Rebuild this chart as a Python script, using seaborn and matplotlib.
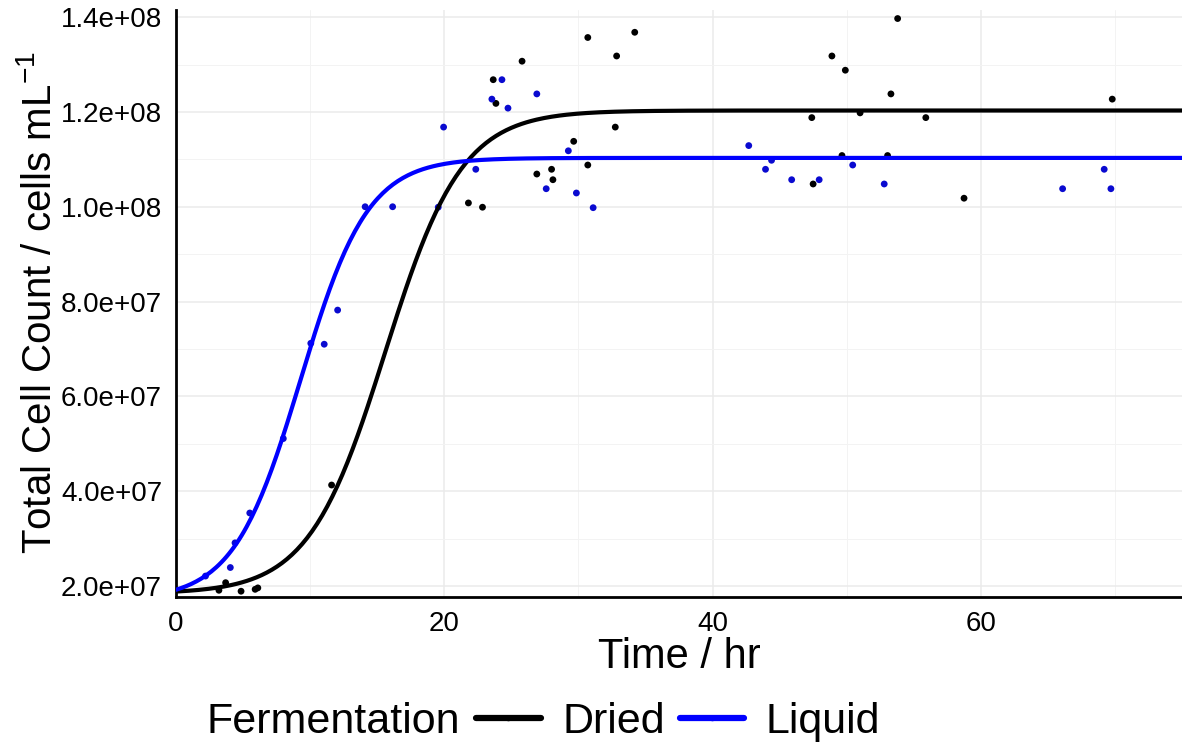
import numpy as np
import pandas as pd
import matplotlib
matplotlib.use("Agg")
import matplotlib.pyplot as plt
import seaborn as sns
from matplotlib.lines import Line2D

dried_time = [3.2, 3.7, 4.85, 5.9, 6.1, 11.6, 21.8, 22.85, 23.65, 23.85, 25.8, 26.9,
              28.0, 28.1, 29.65, 30.7, 30.7, 32.75, 32.85, 34.2, 47.4, 47.5, 48.9,
              49.65, 49.9, 51.0, 53.05, 53.3, 53.8, 55.9, 58.75, 69.8]
dried_count = [1.91e7, 2.07e7, 1.89e7, 1.93e7, 1.96e7, 4.13e7, 1.008e8, 0.999e8, 1.268e8,
               1.218e8, 1.307e8, 1.069e8, 1.079e8, 1.057e8, 1.138e8, 1.088e8, 1.357e8,
               1.168e8, 1.318e8, 1.368e8, 1.188e8, 1.048e8, 1.318e8, 1.108e8, 1.288e8,
               1.198e8, 1.108e8, 1.238e8, 1.397e8, 1.188e8, 1.018e8, 1.227e8]
liquid_time = [2.2, 4.05, 4.4, 5.5, 8.0, 10.05, 11.05, 12.05, 14.1, 16.15, 19.55, 19.95,
               22.35, 23.55, 24.3, 24.75, 26.9, 27.6, 29.25, 29.85, 31.1, 42.7, 43.95,
               44.4, 45.9, 47.95, 50.45, 52.8, 66.1, 69.2, 69.7]
liquid_count = [2.21e7, 2.39e7, 2.91e7, 3.54e7, 5.11e7, 7.12e7, 7.10e7, 7.82e7, 1.0e8,
                1.0e8, 0.999e8, 1.168e8, 1.079e8, 1.227e8, 1.268e8, 1.208e8, 1.238e8,
                1.038e8, 1.118e8, 1.029e8, 0.998e8, 1.129e8, 1.079e8, 1.098e8, 1.057e8,
                1.057e8, 1.088e8, 1.048e8, 1.038e8, 1.079e8, 1.038e8]

# ---- fitted four-parameter logistic curves (parameters) ----
dried_lower, dried_upper, dried_rate, dried_mid = 1.84e7, 1.203e8, 0.35, 15.6
liquid_lower, liquid_upper, liquid_rate, liquid_mid = 1.70e7, 1.103e8, 0.40, 9.3

groups = ["Dried", "Liquid"]
x_ticks = [0, 20, 40, 60]
x_minor = [10, 30, 50, 70]
y_ticks = [2e7, 4e7, 6e7, 8e7, 1e8, 1.2e8, 1.4e8]
y_minor = [3e7, 5e7, 7e7, 9e7, 1.1e8, 1.3e8]
y_tick_labels = ["2.0e+07", "4.0e+07", "6.0e+07", "8.0e+07", "1.0e+08", "1.2e+08", "1.4e+08"]

line_palette = {"Dried": "#000000", "Liquid": "#0000FF"}
point_palette = {"Dried": "#000000", "Liquid": "#0A0AD0"}

pts = pd.concat([
    pd.DataFrame({"time": dried_time, "count": dried_count, "Fermentation": "Dried"}),
    pd.DataFrame({"time": liquid_time, "count": liquid_count, "Fermentation": "Liquid"}),
], ignore_index=True)


def logistic(t, lower, upper, rate, mid):
    return lower + (upper - lower) / (1.0 + np.exp(-rate * (t - mid)))


t_grid = np.linspace(0, 75, 400)
fit = pd.concat([
    pd.DataFrame({"time": t_grid,
                  "count": logistic(t_grid, dried_lower, dried_upper, dried_rate, dried_mid),
                  "Fermentation": "Dried"}),
    pd.DataFrame({"time": t_grid,
                  "count": logistic(t_grid, liquid_lower, liquid_upper, liquid_rate, liquid_mid),
                  "Fermentation": "Liquid"}),
], ignore_index=True)

sns.set_theme(style="white")
plt.rcParams["font.family"] = ["Liberation Sans", "DejaVu Sans"]
plt.rcParams["mathtext.fontset"] = "custom"
plt.rcParams["mathtext.rm"] = "Liberation Sans"
plt.rcParams["mathtext.it"] = "Liberation Sans"
plt.rcParams["text.color"] = "black"
plt.rcParams["axes.labelcolor"] = "black"

W, H = 1182, 747
fig = plt.figure(figsize=(W / 100, H / 100), dpi=100)
ax = fig.add_axes([176 / W, 150 / H, 1 - 176 / W, 587 / H])

sns.scatterplot(data=pts, x="time", y="count", hue="Fermentation", palette=point_palette,
                s=24, edgecolor="none", legend=False, ax=ax, zorder=3)
sns.lineplot(data=fit, x="time", y="count", hue="Fermentation", palette=line_palette,
             lw=3.0, legend=False, ax=ax, zorder=4)

ax.set_xlim(0, 75)
ax.set_ylim(1.768e7, 1.415e8)
ax.set_xticks(x_ticks)
ax.set_xticklabels([str(v) for v in x_ticks])
ax.set_xticks(x_minor, minor=True)
ax.set_yticks(y_ticks)
ax.set_yticklabels(y_tick_labels)
ax.set_yticks(y_minor, minor=True)
ax.grid(which="major", color="#EBEBEB", lw=1.1)
ax.grid(which="minor", color="#F3F3F3", lw=0.7)
ax.set_axisbelow(True)

for s in ["top", "right"]:
    ax.spines[s].set_visible(False)
for s in ["left", "bottom"]:
    ax.spines[s].set_color("black")
    ax.spines[s].set_linewidth(2.0)

ax.tick_params(which="major", direction="out", length=6, width=1.5, color="black",
               labelsize=20, labelcolor="black", pad=4)
ax.tick_params(which="minor", length=0)

ax.set_xlabel("Time / hr", fontsize=30, labelpad=0)
ax.set_ylabel("")
fig.text(40 / W, 1 - 303 / H, "Total Cell Count / cells mL$^{-1}$", fontsize=29,
         rotation=90, ha="center", va="center")

fig.text(207 / W, 1 - 722 / H, "Fermentation", fontsize=31, va="center", ha="left")
handles = [Line2D([0], [0], color=line_palette[g], lw=4.5, marker="o", markersize=3)
           for g in groups]
fig.legend(handles, groups, loc="center left", bbox_to_anchor=(476 / W, 1 - 722 / H),
           ncol=2, frameon=False, fontsize=31, handlelength=1.5, handletextpad=0.5,
           columnspacing=0.35, borderaxespad=0, borderpad=0)

fig.savefig("out.png", dpi=100)
